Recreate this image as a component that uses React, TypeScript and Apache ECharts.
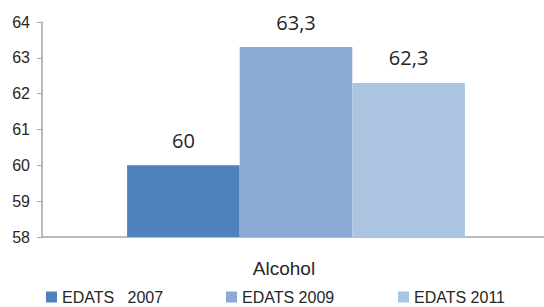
import React, { useEffect, useRef } from "react";
import * as echarts from "echarts";

const categories = ["Alcohol"];
const seriesNames = ["EDATS   2007", "EDATS 2009", "EDATS 2011"];
const seriesValues = [[60], [63.3], [62.3]];
const colors = ["#4F81BD", "#8AABD6", "#ABC4E0"];
const legendLefts = [46, 226, 398];

export default function App() {
  const ref = useRef<HTMLDivElement>(null);
  useEffect(() => {
    const chart = echarts.init(ref.current!, null, { renderer: "svg" });
    chart.setOption({
      animation: false,
      grid: { left: 42, right: 6, top: 22, bottom: 70, containLabel: false },
      legend: seriesNames.map((n, i) => ({
        data: [n],
        left: legendLefts[i],
        top: 289,
        itemWidth: 11,
        itemHeight: 11,
        itemGap: 0,
        padding: 0,
        icon: "rect",
        textStyle: { fontFamily: "Liberation Sans", fontSize: 16, color: "#262626" },
      })),
      xAxis: {
        type: "category",
        data: categories,
        axisLine: { lineStyle: { color: "#A6A6A6", width: 1.5 } },
        axisTick: { show: false },
        axisLabel: {
          fontFamily: "Liberation Sans",
          fontSize: 19,
          color: "#262626",
          margin: 22,
          padding: [0, 24, 0, 0],
        },
      },
      yAxis: {
        type: "value",
        min: 58,
        max: 64,
        interval: 1,
        splitLine: { show: false },
        axisLine: { show: true, lineStyle: { color: "#A6A6A6", width: 1.5 } },
        axisTick: { show: true, length: 5, lineStyle: { color: "#A6A6A6" } },
        axisLabel: { fontFamily: "Liberation Sans", fontSize: 16, color: "#262626", margin: 12 },
      },
      series: seriesNames.map((n, i) => ({
        name: n,
        type: "bar",
        data: seriesValues[i],
        barGap: "0%",
        barCategoryGap: "33.5%",
        itemStyle: { color: colors[i] },
        label: {
          show: true,
          position: "top",
          distance: 15,
          fontFamily: "Open Sans",
          fontSize: 20,
          color: "#262626",
          formatter: (p: any) => String(p.value).replace(".", ","),
        },
      })),
    });
    return () => chart.dispose();
  }, []);
  return (
    <div style={{ position: "absolute", left: 0, top: 0, width: 544, height: 307, overflow: "hidden" }}>
      <div ref={ref} style={{ width: 556, height: 307 }} />
    </div>
  );
}
